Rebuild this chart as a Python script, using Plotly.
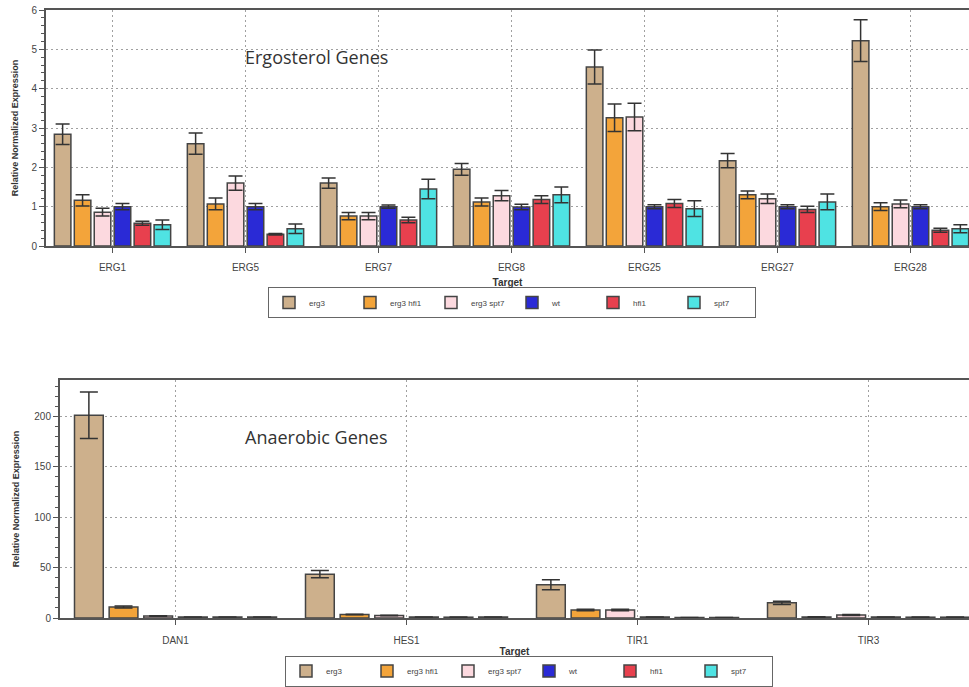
import plotly.graph_objects as go

series = ["erg3", "erg3 hfi1", "erg3 spt7", "wt", "hfi1", "spt7"]
colors = ["#CDB08C", "#F3A43A", "#FCD9DF", "#2A2AD6", "#E8404E", "#4FE3E3"]

erg_targets = ["ERG1", "ERG5", "ERG7", "ERG8", "ERG25", "ERG27", "ERG28"]
erg_values = {
    "erg3":      [2.84, 2.60, 1.60, 1.95, 4.55, 2.17, 5.22],
    "erg3 hfi1": [1.16, 1.07, 0.76, 1.12, 3.26, 1.30, 1.00],
    "erg3 spt7": [0.86, 1.60, 0.76, 1.28, 3.28, 1.20, 1.07],
    "wt":        [1.00, 1.00, 1.00, 0.99, 1.00, 1.00, 1.00],
    "hfi1":      [0.58, 0.30, 0.66, 1.18, 1.08, 0.93, 0.40],
    "spt7":      [0.54, 0.44, 1.45, 1.30, 0.95, 1.12, 0.44],
}
erg_errors = {
    "erg3":      [0.26, 0.27, 0.13, 0.15, 0.43, 0.18, 0.53],
    "erg3 hfi1": [0.14, 0.15, 0.09, 0.10, 0.35, 0.10, 0.10],
    "erg3 spt7": [0.10, 0.18, 0.09, 0.13, 0.35, 0.12, 0.10],
    "wt":        [0.08, 0.08, 0.04, 0.07, 0.05, 0.05, 0.05],
    "hfi1":      [0.05, 0.02, 0.07, 0.10, 0.10, 0.08, 0.05],
    "spt7":      [0.12, 0.12, 0.25, 0.20, 0.20, 0.20, 0.10],
}

ana_targets = ["DAN1", "HES1", "TIR1", "TIR3"]
ana_values = {
    "erg3":      [201, 43.5, 33, 15],
    "erg3 hfi1": [11, 3.5, 8, 1],
    "erg3 spt7": [2, 2.5, 8, 3],
    "wt":        [1, 1, 1, 1],
    "hfi1":      [1, 0.8, 0.5, 0.8],
    "spt7":      [1, 1, 0.5, 0.8],
}
ana_errors = {
    "erg3":      [23, 3.5, 5, 1.5],
    "erg3 hfi1": [1, 0.3, 0.8, 0.2],
    "erg3 spt7": [0.3, 0.3, 0.8, 0.5],
    "wt":        [0.1, 0.1, 0.1, 0.1],
    "hfi1":      [0.1, 0.1, 0.1, 0.1],
    "spt7":      [0.1, 0.1, 0.1, 0.1],
}

W, H = 969, 687
def py(px):
    return 1 - px / H

fig = go.Figure()
for name, col in zip(series, colors):
    fig.add_trace(go.Bar(
        x=erg_targets, y=erg_values[name], name=name,
        marker=dict(color=col, line=dict(color="#444444", width=1.5)),
        error_y=dict(type="data", array=erg_errors[name], color="#333333",
                     thickness=1.5, width=7),
        xaxis="x", yaxis="y", legend="legend",
    ))
for name, col in zip(series, colors):
    fig.add_trace(go.Bar(
        x=ana_targets, y=ana_values[name], name=name,
        marker=dict(color=col, line=dict(color="#444444", width=1.5)),
        error_y=dict(type="data", array=ana_errors[name], color="#333333",
                     thickness=1.5, width=9),
        xaxis="x2", yaxis="y2", legend="legend2",
    ))

tickfont = dict(family="Liberation Sans, Arial", size=10, color="#444444")
axis_common = dict(showline=True, linecolor="#555555", linewidth=2,
                   showgrid=True, gridcolor="#A0A0A0", griddash="2px,3px",
                   gridwidth=1.2, zeroline=False, automargin=False,
                   tickfont=tickfont, ticks="outside", tickcolor="#555555")

legend_common = dict(orientation="h", xanchor="left",
                     bgcolor="white", bordercolor="#666666", borderwidth=1,
                     font=dict(family="Liberation Sans, Arial", size=8, color="#444444"),
                     entrywidth=36, entrywidthmode="pixels", itemwidth=30,
                     tracegroupgap=0, traceorder="normal")

fig.update_layout(
    width=W, height=H,
    margin=dict(l=0, r=0, t=0, b=0),
    paper_bgcolor="white", plot_bgcolor="white",
    barmode="group", bargap=0.1, bargroupgap=0.17,
    xaxis=dict(domain=[46 / W, 1], range=[-0.5, 6.44], anchor="y",
               mirror=True, ticklen=5, ticklabelstandoff=6,
               title=dict(text="<b>Target</b>", standoff=7,
                          font=dict(family="Liberation Sans, Arial", size=10, color="#333333")),
               **axis_common),
    yaxis=dict(domain=[py(246), py(10)], range=[0, 6], anchor="x",
               dtick=1, ticklen=5,
               minor=dict(dtick=0.2, ticks="outside", ticklen=3, tickcolor="#555555", showgrid=False),
               title=dict(text="<b>Relative Normalized Expression</b>", standoff=11,
                          font=dict(family="Liberation Sans, Arial", size=9, color="#333333")),
               **axis_common),
    xaxis2=dict(domain=[60 / W, 1], range=[-0.5, 3.435], anchor="y2",
                mirror=True, ticklen=5, ticklabelstandoff=7,
                title=dict(text="<b>Target</b>", standoff=3,
                           font=dict(family="Liberation Sans, Arial", size=10, color="#333333")),
                **axis_common),
    yaxis2=dict(domain=[py(618), py(380)], range=[0, 236], anchor="x2",
                dtick=50, ticklen=5,
                minor=dict(dtick=10, ticks="outside", ticklen=3, tickcolor="#555555", showgrid=False),
                title=dict(text="<b>Relative Normalized Expression</b>", standoff=13,
                           font=dict(family="Liberation Sans, Arial", size=9, color="#333333")),
                **axis_common),
    legend=dict(x=268 / W, y=py(287), yanchor="top", **legend_common),
    legend2=dict(x=285 / W, y=py(686.5), yanchor="bottom", **legend_common),
    annotations=[
        dict(text="Ergosterol Genes", xref="paper", yref="paper",
             x=243 / W, y=py(57), xanchor="left", yanchor="middle", showarrow=False,
             font=dict(family="Open Sans, Noto Sans", size=18, color="#333333")),
        dict(text="Anaerobic Genes", xref="paper", yref="paper",
             x=243 / W, y=py(437), xanchor="left", yanchor="middle", showarrow=False,
             font=dict(family="Open Sans, Noto Sans", size=18, color="#333333")),
    ],
)

fig.write_html("out.html", config={"displayModeBar": False},
               post_script="document.body.style.margin='0';")
